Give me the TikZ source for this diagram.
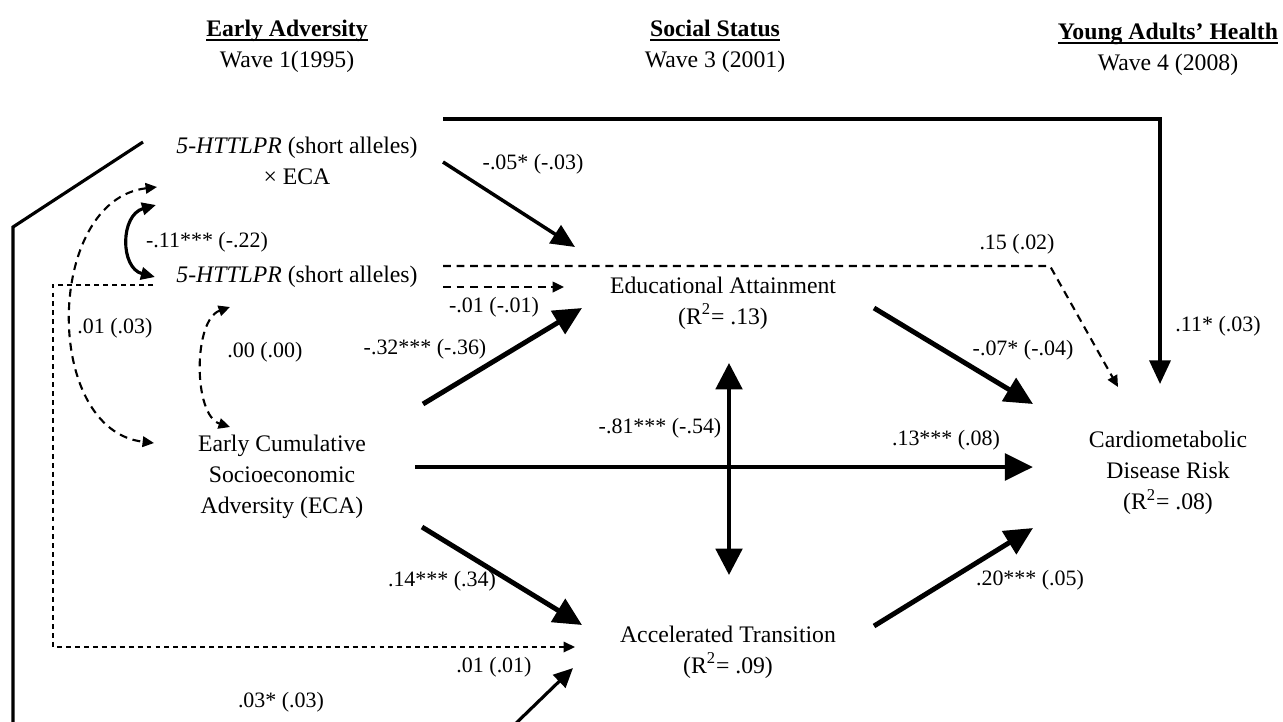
\documentclass[tikz,border=0pt]{standalone}
\usepackage{fontspec}
\setmainfont{Liberation Serif}
\usetikzlibrary{arrows.meta}
\newcommand\hdrul[1]{\setbox0\hbox{#1}\rlap{\raisebox{-2.4pt}{\rule{\wd0}{1.1pt}}}\box0}
\begin{document}
\begin{tikzpicture}[x=0.02cm,y=-0.02cm,
  tx/.style={font=\fontsize{13.5}{17.5}\selectfont, align=center, inner sep=0pt},
  lb/.style={font=\fontsize{12.5}{15}\selectfont, inner sep=0pt},
  thk/.style={line width=2.8pt, -{Triangle[length=16pt,width=15pt]}},
  dbl/.style={line width=2.3pt, {Triangle[length=15pt,width=15pt]}-{Triangle[length=15pt,width=15pt]}},
  med/.style={line width=2pt, -{Triangle[length=13.5pt,width=12pt]}},
  thin/.style={line width=1.8pt, -{Triangle[length=11pt,width=10pt]}},
  dsh/.style={line width=1.2pt, dash pattern=on 4.5pt off 3.2pt, -{Triangle[length=6.5pt,width=6pt]}},
  dtt/.style={line width=0.9pt, dash pattern=on 2.8pt off 2.3pt, -{Triangle[length=6.5pt,width=6pt]}},
  cur/.style={line width=1.8pt, {Triangle[length=8pt,width=7pt]}-{Triangle[length=8pt,width=7pt]}},
  dcur/.style={line width=1.2pt, dash pattern=on 4.5pt off 3.2pt, {Triangle[length=6.5pt,width=6pt]}-{Triangle[length=6.5pt,width=6pt]}}
]
\useasboundingbox (0,0) rectangle (1283,721);
\clip (0,0) rectangle (1283,721);

% headers
\node[tx] (hEA) at (287,46) {\hdrul{\textbf{Early Adversity}}\\Wave 1(1995)};
\node[tx] (hSS) at (715,46) {\hdrul{\textbf{Social Status}}\\Wave 3 (2001)};
\node[tx] (hYH) at (1168,49) {\hdrul{\textbf{Young Adults’ Health}}\\Wave 4 (2008)};

% variables
\node[tx] (GxE) at (297,161) {\textit{5-HTTLPR} (short alleles)\\× ECA};
\node[tx] (G) at (297,277) {\textit{5-HTTLPR} (short alleles)};
\node[tx] (ECA) at (282,477) {Early Cumulative\\Socioeconomic\\Adversity (ECA)};
\node[tx] (EA) at (723,303) {Educational Attainment\\(R\textsuperscript{2}= .13)};
\node[tx] (AT) at (728,652) {Accelerated Transition\\(R\textsuperscript{2}= .09)};
\node[tx] (CDR) at (1168,473) {Cardiometabolic\\Disease Risk\\(R\textsuperscript{2}= .08)};

% connector end points
\coordinate (gxeR) at (443,119);
\coordinate (cdrC1) at (1160,119);
\coordinate (cdrIn1) at (1160,384);
\coordinate (gxeL) at (143,142);
\coordinate (lc1) at (13,227);
\coordinate (lc2) at (13,760);
\coordinate (lc3) at (478,760);
\coordinate (atIn3) at (573,668);
\coordinate (gxeOut) at (443,162);
\coordinate (eaIn1) at (575,247);
\coordinate (gR1) at (443,266);
\coordinate (cdrC2) at (1050,266);
\coordinate (cdrIn2) at (1118,387);
\coordinate (gR2) at (443,287);
\coordinate (eaIn2) at (564,287);
\coordinate (gL) at (153,285);
\coordinate (dc1) at (53,285);
\coordinate (dc2) at (53,647);
\coordinate (atIn2) at (575,647);
\coordinate (ecaOut1) at (423,404);
\coordinate (eaIn3) at (582,308);
\coordinate (ecaOut2) at (415,467);
\coordinate (cdrIn3) at (1033,467);
\coordinate (ecaOut3) at (422,527);
\coordinate (atIn1) at (582,625);
\coordinate (eaBot) at (729,363);
\coordinate (atTop) at (729,575);
\coordinate (eaOut) at (874,308);
\coordinate (cdrIn4) at (1033,404);
\coordinate (atOut) at (874,626);
\coordinate (cdrIn5) at (1033,528);
\coordinate (gxeCL) at (156,205);
\coordinate (gCL) at (155,277);
\coordinate (gxeDL) at (157,187);
\coordinate (ecaDL) at (154,443);
\coordinate (gDB) at (230,307);
\coordinate (ecaDT) at (230,427);

% connectors
\draw[med] (gxeR) -- (cdrC1) -- (cdrIn1);
\draw[thin] (gxeL) -- (lc1) -- (lc2) -- (lc3) -- (atIn3);
\draw[med] (gxeOut) -- (eaIn1);
\draw[dsh] (gR1) -- (cdrC2) -- (cdrIn2);
\draw[dsh] (gR2) -- (eaIn2);
\draw[dtt] (gL) -- (dc1) -- (dc2) -- (atIn2);
\draw[thk] (ecaOut1) -- (eaIn3);
\draw[thk] (ecaOut2) -- (cdrIn3);
\draw[thk] (ecaOut3) -- (atIn1);
\draw[dbl] (eaBot) -- (atTop);
\draw[thk] (eaOut) -- (cdrIn4);
\draw[thk] (atOut) -- (cdrIn5);
\draw[cur] (gxeCL) .. controls (120,215) and (120,268) .. (gCL);
\draw[dcur] (gxeDL) .. controls (45,200) and (42,430) .. (ecaDL);
\draw[dcur] (gDB) .. controls (193,320) and (193,415) .. (ecaDT);

% labels
\node[lb] (l1) at (533,164) {-.05* (-.03)};
\node[lb] (l2) at (207,242) {-.11*** (-.22)};
\node[lb] (l3) at (1017,244) {.15 (.02)};
\node[lb] (l4) at (494,307) {-.01 (-.01)};
\node[lb] (l5) at (115,328) {.01 (.03)};
\node[lb] (l6) at (1218,326) {.11* (.03)};
\node[lb] (l7) at (265,352) {.00 (.00)};
\node[lb] (l8) at (425,349) {-.32*** (-.36)};
\node[lb] (l9) at (1023,350) {-.07* (-.04)};
\node[lb] (l10) at (660,428) {-.81*** (-.54)};
\node[lb] (l11) at (946,440) {.13*** (.08)};
\node[lb] (l12) at (442,581) {.14*** (.34)};
\node[lb] (l13) at (1030,580) {.20*** (.05)};
\node[lb] (l14) at (494,667) {.01 (.01)};
\node[lb] (l15) at (281,702) {.03* (.03)};
\end{tikzpicture}
\end{document}
